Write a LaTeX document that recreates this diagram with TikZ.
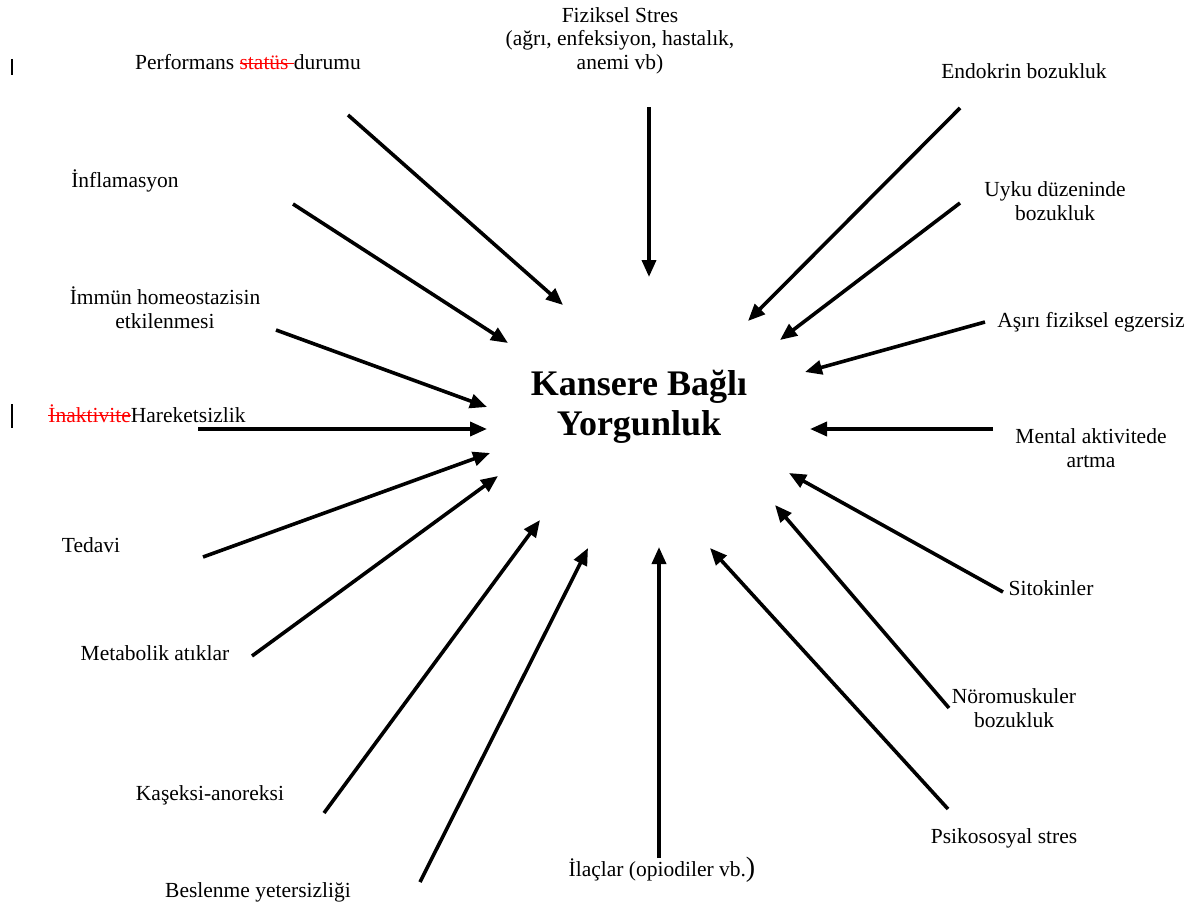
\documentclass[tikz,border=0pt]{standalone}
\usepackage{fontspec}
\setmainfont{Liberation Serif}
\usepackage{xcolor}
\usetikzlibrary{arrows.meta}
% red struck-out text of the revision marks
\newcommand\silinmis[1]{{\color{red}\setbox0\hbox{#1}\rlap{\rule[0.3em]{\wd0}{1pt}}\box0}}

\begin{document}
\begin{tikzpicture}[x=1pt, y=-1pt,
        etiket/.style={font=\fontsize{21.5}{23.5}\selectfont, anchor=base, align=center, inner sep=0pt},
        ok/.style={line width=3.6pt, -{Triangle[length=17pt, width=14pt]}}]
        % Page frame (pixel units)
        \useasboundingbox (0,0) rectangle (1190,907);

        % Change bars of the revision marks
        \draw[line width=2pt] (12,59) -- (12,75);
        \draw[line width=2pt] (12,404) -- (12,428);

        % Centre
        \node[font=\fontsize{36}{40}\selectfont\bfseries, anchor=base, inner sep=0pt] (kby1) at (639,395) {Kansere Bağlı};
        \node[font=\fontsize{36}{40}\selectfont\bfseries, anchor=base, inner sep=0pt] (kby2) at (639,435) {Yorgunluk};

        % Labels (left side); multi-line ones sit on their last line
        \node[etiket] (perf) at (248,70) {Performans \silinmis{statüs }durumu};
        \node[etiket] (infl) at (125,187) {İnflamasyon};
        \node[etiket] (immun) at (165,328) {İmmün homeostazisin\\etkilenmesi};
        \node[etiket] (hareket) at (147,422) {\silinmis{İnaktivite}Hareketsizlik};
        \node[etiket] (tedavi) at (91,552) {Tedavi};
        \node[etiket] (metab) at (155,660) {Metabolik atıklar};
        \node[etiket] (kasek) at (210,800) {Kaşeksi-anoreksi};
        \node[etiket] (besl) at (258,897) {Beslenme yetersizliği};

        % Labels (top, bottom and right side)
        \node[etiket] (fizik) at (620,69) {Fiziksel Stres\\(ağrı, enfeksiyon, hastalık,\\anemi vb)};
        \node[etiket] (ilac) at (662,876) {İlaçlar (opiodiler vb.{\fontsize{28}{30}\selectfont)}};
        \node[etiket] (endok) at (1024,78) {Endokrin bozukluk};
        \node[etiket] (uyku) at (1055,220) {Uyku düzeninde\\bozukluk};
        \node[etiket] (asiri) at (1091,327) {Aşırı fiziksel egzersiz};
        \node[etiket] (mental) at (1091,467) {Mental aktivitede\\artma};
        \node[etiket] (sitok) at (1051,595) {Sitokinler};
        \node[etiket] (norom) at (1014,727) {Nöromuskuler\\bozukluk};
        \node[etiket] (psiko) at (1004,843) {Psikososyal stres};

        % Arrows: tail -> tip
        \foreach \n/\sx/\sy/\tx/\ty in {perf/348/115/563/305, infl/293/204/508/343,
                immun/276/330/487/407, hareket/198/429/487/429, tedavi/203/557/490/453,
                metab/252/656/498/476, kasek/324/813/540/520, besl/420/882/588/548,
                ilac/659/858/659/547, psiko/948/809/710/548, norom/949/708/775/505,
                sitok/1003/592/789/473, mental/993/429/810/429, asiri/985/322/805/372,
                uyku/960/203/780/340, endok/960/108/748/321, fizik/649/107/649/277} {
            \coordinate (\n-s) at (\sx,\sy);
            \coordinate (\n-t) at (\tx,\ty);
            \draw[ok] (\n-s) -- (\n-t);
        }
\end{tikzpicture}
\end{document}
